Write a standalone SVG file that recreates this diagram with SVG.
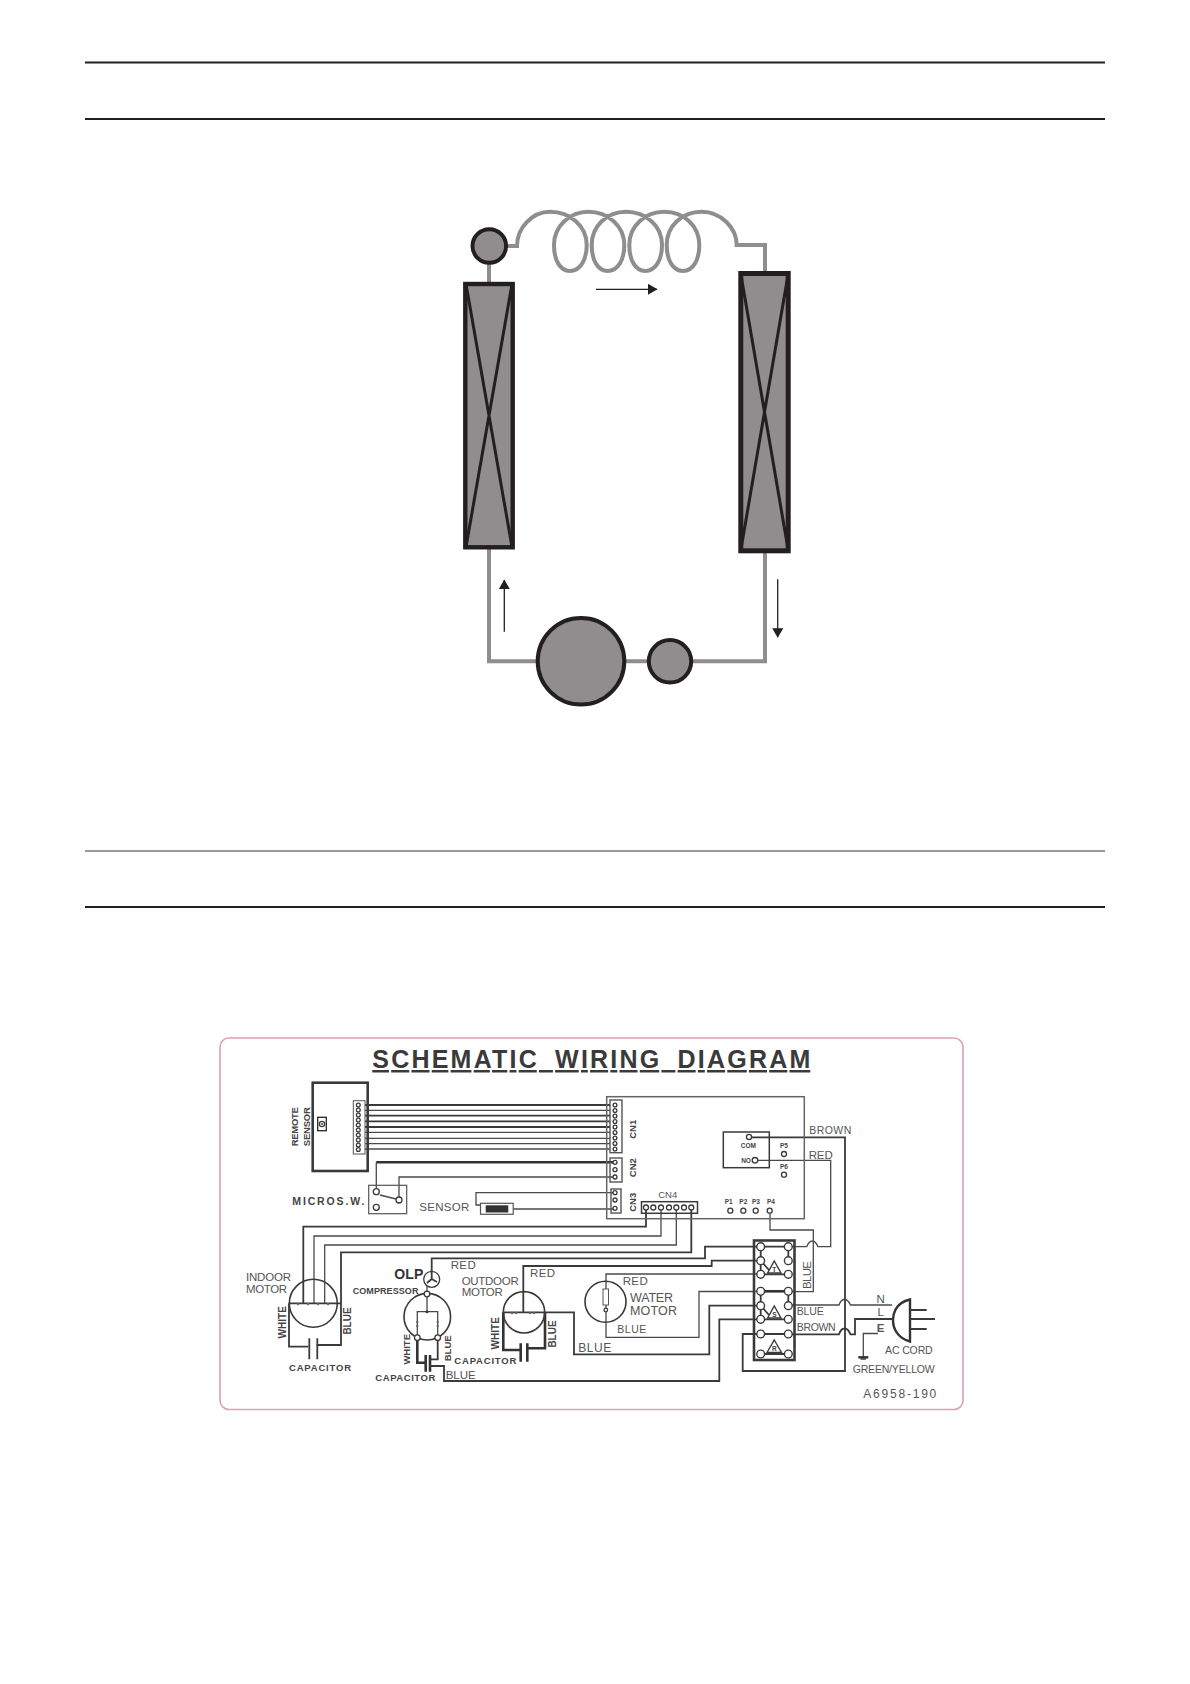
<svg xmlns="http://www.w3.org/2000/svg" width="1190" height="1684" viewBox="0 0 1190 1684">
<defs>
<marker id="ah" markerUnits="userSpaceOnUse" markerWidth="10" markerHeight="11" refX="9" refY="5.5" orient="auto"><path d="M0 0L9.5 5.5L0 11Z" fill="#231f20"/></marker>
</defs>
<style>
.rule{stroke:#231f20;stroke-width:2;fill:none}
.pipe{stroke:#8f8d8e;stroke-width:4;fill:none}
.flow{stroke:#231f20;stroke-width:1.3;fill:none;marker-end:url(#ah)}
.unit{fill:#8f8d8e;stroke:#231f20;stroke-width:4}
.x{stroke:#231f20;stroke-width:3;fill:none}
.w{stroke:#4a4a4a;stroke-width:1.3;fill:none}
.wt{stroke:#3a3a3a;stroke-width:1.8;fill:none}
.wb{stroke:#333;stroke-width:2.6;fill:none}
.b{fill:#fff;stroke:#555;stroke-width:1.4}
.bk{fill:none;stroke:#3a3a3a;stroke-width:2}
.p{fill:#fff;stroke:#3a3a3a;stroke-width:1.3}
.t{fill:#fff;stroke:#3a3a3a;stroke-width:1.4}
text{font-family:"Liberation Sans",Arial,sans-serif;fill:#555}
.l{font-size:11.5px}
.h{font-weight:bold;fill:#444;font-size:9.5px}
.s{font-weight:bold;fill:#444;font-size:6.5px;text-anchor:middle}
</style>
<rect width="1190" height="1684" fill="#fff"/>
<g id="page-rules">
<line class="rule" x1="85" y1="62.5" x2="1105" y2="62.5"/>
<line class="rule" x1="85" y1="119" x2="1105" y2="119"/>
<line class="rule" x1="85" y1="851" x2="1105" y2="851" style="stroke-width:1;stroke:#333"/>
<line class="rule" x1="85" y1="907" x2="1105" y2="907"/>
</g>

<g id="refrigerant-connectors">
<path class="pipe" d="M507 246H517C517 228 532 211.7 550 211.7C570 211.7 586.7 226 586.7 245C586.7 260 580 271 570 271C560 271 554 260 554 245C554 226 570 211.7 588.3 211.7C608 211.7 624.3 226 624.3 245C624.3 260 617.7 271 607.7 271C597.7 271 591.7 260 591.7 245C591.7 226 607 211.7 626 211.7C646 211.7 662 226 662 245C662 260 655.3 271 645.3 271C635.3 271 629.3 260 629.3 245C629.3 226 645 211.7 664.3 211.7C684 211.7 699.3 226 699.3 245C699.3 260 693 271 683 271C673 271 666.7 260 666.7 245C666.7 226 682 211.7 701.7 211.7C721 211.7 736.7 228 736.7 245H765V274"/>
<path class="pipe" d="M489 262V284"/>
<path class="pipe" d="M489 548V661.3H540M622 661.3H650M690 661.3H765V552"/>
<line class="flow" x1="596" y1="289.3" x2="657" y2="289.3"/>
<line class="flow" x1="504.3" y1="631.7" x2="504.3" y2="580"/>
<line class="flow" x1="777.7" y1="579.3" x2="777.7" y2="637.3"/>
</g>
<g id="receiver"><circle class="unit" cx="489.3" cy="246" r="16.8"/></g>
<g id="left-coil">
<rect class="unit" x="465.3" y="284" width="47.4" height="263.3" style="stroke-width:4.4"/>
<path class="x" d="M466 284L512 547M512 284L466 547"/>
</g>
<g id="right-coil">
<rect class="unit" x="740.8" y="273.5" width="47.4" height="277.3" style="stroke-width:5"/>
<path class="x" d="M741 275L788 549M788 275L741 549"/>
</g>
<g id="compressor"><circle class="unit" cx="581" cy="661.3" r="43.3"/></g>
<g id="drier"><circle class="unit" cx="670" cy="661.3" r="21.2"/></g>

<g id="panel">
<rect x="220" y="1038" width="743" height="371.5" rx="9" fill="#fff" stroke="#d9a3b0" stroke-width="1.6"/>
<text x="372.3" y="1068" font-size="25" font-weight="bold" style="fill:#3a3a3a" text-decoration="underline" word-spacing="7" textLength="438" lengthAdjust="spacing">SCHEMATIC WIRING DIAGRAM</text>
<text x="863.3" y="1398.3" font-size="12" textLength="73">A6958-190</text>
</g>

<g id="wiring-connectors">
<g class="w">
<path class="wt" d="M365 1105H612"/><path d="M365 1110.3H612"/><path class="wt" d="M365 1115.7H612"/><path class="wt" d="M365 1121.3H612"/><path class="wt" d="M365 1127H612"/><path d="M365 1132.3H612"/><path d="M365 1138.3H612"/><path d="M365 1143.7H612"/><path d="M365 1149H612"/>
<path d="M376.3 1188V1162.3"/>
<path class="wb" d="M376.3 1162.3H615"/>
<path d="M399 1197V1177H615"/>
<path d="M615 1192.7H476V1205H481"/>
<path d="M513 1209H615"/>
<path class="wt" d="M646 1207V1226.7H303.3V1303.3"/>
<path d="M661 1207V1236H314V1303.3"/>
<path d="M676.3 1207V1245H324.7V1303.3"/>
<path class="wt" d="M691.3 1207V1252.3H341V1345H316.7"/>
<path class="wt" d="M289 1303.3H341"/>
<path class="wt" d="M289 1303.3V1346.7H308.3"/>
<path class="wt" d="M431.7 1273V1258.3H705V1246.7H757"/>
<path class="wt" d="M523.3 1312.3V1266H711.7V1260.7H757"/>
<path d="M760 1274H606V1337.3H699V1291.5H757"/>
<path class="wt" d="M503.3 1312.3H574V1354.3H709.3V1305.7H757"/>
<path class="wb" d="M503.3 1312.3V1350H520.7"/>
<path class="wb" d="M545 1312.3V1348.3H527.3"/>
<path class="wb" d="M417.3 1340V1362.7H425.7"/>
<path class="wt" d="M437.7 1340V1359.3H430"/>
<path class="wt" d="M430 1366H444V1381H719.3V1319.3H757"/>
<path d="M427 1283V1311.7M417.3 1337.7V1311.7H437.7V1337.7"/>
<path class="wt" d="M751.7 1137.3H845V1371H742.7V1334H757"/>
<path class="w" d="M758 1160.3H830.7V1246.7H818Q815.5 1241 812.5 1241Q809 1241 806.7 1246.7H792"/>
<path d="M770 1213.5V1230H813.3V1291.7H792"/>
<path d="M792 1305H839Q841 1299.5 844.5 1299.5Q848 1299.5 850.5 1305H892"/>
<path class="wt" d="M792 1334.3H839Q841 1328.5 844.5 1328.5Q848 1328.5 850.5 1334.3H855V1319H894"/>
<path d="M878 1333.5H863.3V1356.7"/>
</g>
</g>

<g id="remote-sensor">
<rect class="bk" x="312.7" y="1082.7" width="55" height="88.3" style="stroke-width:2.6"/>
<rect class="b" x="353.3" y="1100.7" width="11.7" height="53.3" style="stroke-width:1"/>
<g class="p"><circle cx="358.3" cy="1105" r="1.9"/><circle cx="358.3" cy="1110" r="1.9"/><circle cx="358.3" cy="1115" r="1.9"/><circle cx="358.3" cy="1120" r="1.9"/><circle cx="358.3" cy="1125" r="1.9"/><circle cx="358.3" cy="1130" r="1.9"/><circle cx="358.3" cy="1135" r="1.9"/><circle cx="358.3" cy="1140" r="1.9"/><circle cx="358.3" cy="1145" r="1.9"/><circle cx="358.3" cy="1149.5" r="1.9"/></g>
<rect class="b" x="317.7" y="1117.3" width="8.6" height="13.4" style="stroke:#333"/>
<circle class="p" cx="322" cy="1124" r="2.6"/><circle cx="322" cy="1124" r="0.9" fill="#333"/>
<text class="h" transform="translate(297.7 1126.7) rotate(-90)" text-anchor="middle" textLength="39">REMOTE</text>
<text class="h" transform="translate(310 1126.7) rotate(-90)" text-anchor="middle" textLength="39">SENSOR</text>
</g>

<g id="control-board">
<rect x="606.7" y="1096.7" width="197.6" height="122" fill="none" stroke="#666" stroke-width="1.5"/>
<rect class="b" x="610" y="1100" width="12" height="52.7"/>
<g class="p"><circle cx="615" cy="1105" r="1.9"/><circle cx="615" cy="1110.5" r="1.9"/><circle cx="615" cy="1116" r="1.9"/><circle cx="615" cy="1121.5" r="1.9"/><circle cx="615" cy="1127" r="1.9"/><circle cx="615" cy="1132.5" r="1.9"/><circle cx="615" cy="1138" r="1.9"/><circle cx="615" cy="1143.5" r="1.9"/><circle cx="615" cy="1149" r="1.9"/></g>
<rect class="b" x="610" y="1158" width="12" height="24" style="fill:none"/>
<g class="p"><circle cx="615" cy="1162.3" r="2"/><circle cx="615" cy="1169.7" r="2"/><circle cx="615" cy="1177" r="2"/></g>
<rect class="b" x="611" y="1189" width="10" height="24" style="fill:none"/>
<g class="p"><circle cx="615" cy="1192.7" r="2"/><circle cx="615" cy="1200" r="2"/><circle cx="615" cy="1208.3" r="2"/></g>
<text class="h" transform="translate(636 1129.3) rotate(-90)" text-anchor="middle">CN1</text>
<text class="h" transform="translate(636 1167.7) rotate(-90)" text-anchor="middle">CN2</text>
<text class="h" transform="translate(636 1202.3) rotate(-90)" text-anchor="middle">CN3</text>
<text x="667.7" y="1198.3" font-size="9.5" text-anchor="middle">CN4</text>
<rect class="bk" x="641.5" y="1201.7" width="56" height="11.6" style="stroke-width:1.5"/>
<g class="p"><circle cx="646" cy="1207.5" r="2.5"/><circle cx="653.3" cy="1207.5" r="2.5"/><circle cx="661" cy="1207.5" r="2.5"/><circle cx="669" cy="1207.5" r="2.5"/><circle cx="676.3" cy="1207.5" r="2.5"/><circle cx="684" cy="1207.5" r="2.5"/><circle cx="691.3" cy="1207.5" r="2.5"/></g>
<text class="s" x="728.7" y="1203.7">P1</text><text class="s" x="743.3" y="1203.7">P2</text><text class="s" x="756" y="1203.7">P3</text><text class="s" x="771" y="1203.7">P4</text>
<g class="p"><circle cx="730.3" cy="1210.7" r="2.5"/><circle cx="743.3" cy="1210.7" r="2.5"/><circle cx="755.7" cy="1210.7" r="2.5"/><circle cx="769.7" cy="1210.7" r="2.5"/><circle cx="784" cy="1154" r="2.5"/><circle cx="784" cy="1174.7" r="2.5"/></g>
<text class="s" x="784" y="1148.3">P5</text><text class="s" x="784" y="1169.3">P6</text>
</g>

<g id="relay">
<rect class="bk" x="723.3" y="1132" width="46" height="35.7" style="stroke-width:1.5"/>
<circle class="p" cx="749" cy="1136.9" r="2.6"/><circle class="p" cx="755" cy="1160.3" r="2.8"/>
<text class="s" x="748.3" y="1147.7">COM</text>
<text class="s" x="746" y="1162.7">NO</text>
<text class="l" x="809.3" y="1134.3" style="font-size:10.5px" textLength="42">BROWN</text>
<text class="l" x="808.7" y="1158.7" textLength="24">RED</text>
</g>

<g id="micro-switch">
<rect class="b" x="368.7" y="1185.3" width="38" height="28.4" style="fill:none;stroke-width:1.2"/>
<line class="w" x1="380" y1="1195" x2="396" y2="1199"/>
<circle class="p" cx="376.3" cy="1191.7" r="3"/><circle class="p" cx="399" cy="1200" r="3"/><circle class="p" cx="376.3" cy="1207.3" r="3"/>
<text class="h" x="292.3" y="1205" textLength="72" style="font-size:10.5px">MICROS.W.</text>
</g>

<g id="sensor">
<rect class="b" x="480.5" y="1203.3" width="32.7" height="11" style="stroke-width:1.2"/>
<rect x="485.7" y="1205.3" width="22.6" height="7.2" fill="#333"/>
<text class="l" x="419.3" y="1210.7" textLength="50">SENSOR</text>
</g>

<g id="indoor-motor">
<circle cx="313.3" cy="1303.3" r="24" fill="none" stroke="#3a3a3a" stroke-width="1.6"/>
<g fill="#666"><circle cx="298" cy="1304" r="1.2"/><circle cx="308" cy="1304" r="1.2"/><circle cx="318" cy="1304" r="1.2"/><circle cx="328" cy="1304" r="1.2"/></g>
<path class="wt" d="M309.3 1338.3V1359.3M317.3 1338.3V1359.3"/>
<text class="l" x="246" y="1280.7" textLength="45">INDOOR</text>
<text class="l" x="246" y="1292.7" textLength="41">MOTOR</text>
<text class="h" transform="translate(286.3 1322.3) rotate(-90)" text-anchor="middle" style="font-size:10px">WHITE</text>
<text class="h" transform="translate(351.3 1321) rotate(-90)" text-anchor="middle" style="font-size:10px">BLUE</text>
<text class="h" x="289" y="1370.7" textLength="62">CAPACITOR</text>
</g>

<g id="compressor-unit">
<circle cx="427.3" cy="1316.7" r="23.3" fill="none" stroke="#3a3a3a" stroke-width="1.6"/>
<circle class="p" cx="431.7" cy="1279.3" r="8"/>
<path class="wt" d="M431.7 1272V1279L427 1283M431.7 1279L437 1282"/>
<circle class="p" cx="427" cy="1294" r="2.8"/>
<circle cx="427" cy="1311.7" r="1.5" fill="#333"/>
<circle class="p" cx="417.3" cy="1337.7" r="2.8"/><circle class="p" cx="437.7" cy="1337.7" r="2.8"/>
<g fill="#666"><circle cx="417.3" cy="1322" r="1.2"/><circle cx="417.3" cy="1326" r="1.2"/><circle cx="437.7" cy="1322" r="1.2"/><circle cx="437.7" cy="1326" r="1.2"/></g>
<path class="wb" d="M425.7 1355V1371.7M430 1355V1371.7"/>
<text x="394.3" y="1278.7" font-size="14" font-weight="bold" style="fill:#333" textLength="29">OLP</text>
<text class="h" x="352.7" y="1294.3" style="font-size:9px" textLength="65.7">COMPRESSOR</text>
<text class="l" x="450.7" y="1268.7" textLength="25">RED</text>
<text class="h" transform="translate(409.5 1349.3) rotate(-90)" text-anchor="middle">WHITE</text>
<text class="h" transform="translate(451 1348.3) rotate(-90)" text-anchor="middle">BLUE</text>
<text class="h" x="375.3" y="1380.7" textLength="60">CAPACITOR</text>
<text class="l" x="445.7" y="1378.7" textLength="30">BLUE</text>
</g>

<g id="outdoor-motor">
<circle cx="524" cy="1312.3" r="20.7" fill="none" stroke="#3a3a3a" stroke-width="1.6"/>
<g fill="#666"><circle cx="512" cy="1313" r="1.2"/><circle cx="516" cy="1313" r="1.2"/><circle cx="530" cy="1313" r="1.2"/><circle cx="534" cy="1313" r="1.2"/></g>
<path class="wb" d="M520.7 1343.3V1361.7M527.3 1343.3V1361.7"/>
<text class="l" x="461.7" y="1284.7" textLength="57">OUTDOOR</text>
<text class="l" x="461.7" y="1296" textLength="41">MOTOR</text>
<text class="l" x="530" y="1277.3" textLength="25">RED</text>
<text class="h" transform="translate(498.5 1333.3) rotate(-90)" text-anchor="middle" style="font-size:10px">WHITE</text>
<text class="h" transform="translate(556 1334) rotate(-90)" text-anchor="middle" style="font-size:10px">BLUE</text>
<text class="h" x="454.3" y="1363.7" textLength="62">CAPACITOR</text>
<text class="l" x="578.3" y="1351.7" style="font-size:12px" textLength="33">BLUE</text>
</g>

<g id="water-motor">
<circle cx="605.5" cy="1301.7" r="20.5" fill="none" stroke="#3a3a3a" stroke-width="1.6"/>
<rect class="b" x="603" y="1289" width="5.5" height="16" style="stroke-width:1"/>
<circle class="p" cx="605.8" cy="1310" r="1.8"/>
<text class="l" x="622.7" y="1284.7" textLength="25">RED</text>
<text class="l" x="630" y="1301.7" style="font-size:12.5px" textLength="43">WATER</text>
<text class="l" x="630" y="1315" style="font-size:12.5px" textLength="47">MOTOR</text>
<text class="l" x="617.3" y="1332.7" style="font-size:10.5px" textLength="29">BLUE</text>
</g>

<g id="terminal-block">
<rect class="bk" x="754" y="1240.5" width="40.5" height="119.5" style="stroke-width:2.6"/>
<path class="wt" d="M760.7 1246.7H788.3M760.7 1246.7V1274.3M788.3 1246.7V1260.7M760.7 1274.3H788.3M760.7 1260.7L769 1270"/>
<path class="wb" d="M760.7 1291.3H788.3"/>
<path class="wt" d="M760.7 1291.3V1319.3M788.3 1291.3V1305.7M760.7 1319.3H788.3M760.7 1305.7L769 1315"/>
<path class="wt" d="M760.7 1334H788.3M760.7 1354H788.3"/>
<g class="t">
<circle cx="760.7" cy="1246.7" r="3.9"/><circle cx="788.3" cy="1246.7" r="3.9"/>
<circle cx="760.7" cy="1260.7" r="3.9"/><circle cx="788.3" cy="1260.7" r="3.9"/>
<circle cx="760.7" cy="1274.3" r="3.9"/><circle cx="788.3" cy="1274.3" r="3.9"/>
<circle cx="760.7" cy="1291.3" r="3.9"/><circle cx="788.3" cy="1291.3" r="3.9"/>
<circle cx="760.7" cy="1305.7" r="3.9"/><circle cx="788.3" cy="1305.7" r="3.9"/>
<circle cx="760.7" cy="1319.3" r="3.9"/><circle cx="788.3" cy="1319.3" r="3.9"/>
<circle cx="760.7" cy="1334" r="3.9"/><circle cx="788.3" cy="1334" r="3.9"/>
<circle cx="760.7" cy="1354" r="3.9"/><circle cx="788.3" cy="1354" r="3.9"/>
<path d="M774.3 1261L781 1273H767.6Z"/><path d="M774.3 1306L781 1318H767.6Z"/><path d="M774.3 1340L781.5 1352.5H767Z"/>
</g>
<text class="s" x="774.3" y="1271.5">T</text><text class="s" x="774.3" y="1316.5">S</text><text class="s" x="774.3" y="1351">R</text>
<text class="l" transform="translate(810.5 1275) rotate(-90)" text-anchor="middle" textLength="28">BLUE</text>
<text class="l" x="796.7" y="1315" style="font-size:10.5px" textLength="27">BLUE</text>
<text class="l" x="796.7" y="1331.3" style="font-size:10.5px" textLength="39">BROWN</text>
</g>

<g id="ac-cord">
<path d="M910 1299.5C894 1303 893 1316 893 1320C893 1328 897 1338 910 1341.5Z" fill="#fff" stroke="#333" stroke-width="2.4"/>
<path class="wt" d="M910 1310H926.7M910 1319H935M910 1329H926.7" style="stroke-width:2.2"/>
<path d="M858.3 1357.3H868.3" stroke="#333" stroke-width="2.4"/>
<path d="M860.5 1359H866" stroke="#333" stroke-width="1.4"/>
<text class="l" x="880.7" y="1303.3" text-anchor="middle">N</text>
<text class="l" x="880.7" y="1316" text-anchor="middle">L</text>
<text class="l" x="880.7" y="1331.7" text-anchor="middle" font-weight="bold">E</text>
<text class="l" x="885" y="1354" style="font-size:10.5px" textLength="47.7">AC CORD</text>
<text class="l" x="852.7" y="1373.3" style="font-size:10.5px" textLength="82">GREEN/YELLOW</text>
</g>
</svg>
